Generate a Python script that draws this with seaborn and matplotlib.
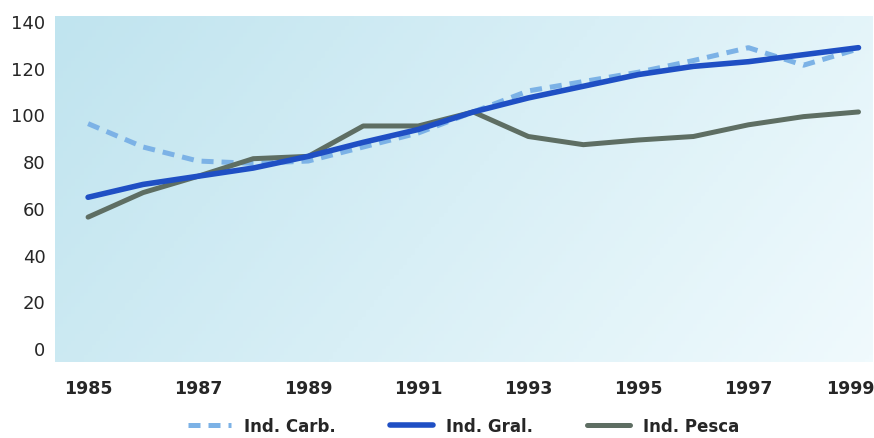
import numpy as np
import pandas as pd
import matplotlib.pyplot as plt
import matplotlib.transforms as mtransforms
import seaborn as sns

# Datos
years = list(range(1985, 2000))
ind_carb = [96, 86, 80, 79, 80, 86, 92, 101, 110, 114, 118, 123, 128.5, 121, 128]
ind_gral = [64.5, 70, 73.5, 77, 82, 88, 93.5, 101, 107, 112, 117, 120.5, 122.5, 125.5, 128.5]
ind_pesca = [56, 66.5, 73.5, 81, 82, 95, 95, 101, 90.5, 87, 89, 90.5, 95.5, 99, 101]

x_ticks = [1985, 1987, 1989, 1991, 1993, 1995, 1997, 1999]
y_ticks = [0, 20, 40, 60, 80, 100, 120, 140]

df = pd.DataFrame({'year': years, 'Ind. Carb.': ind_carb,
                   'Ind. Gral.': ind_gral, 'Ind. Pesca': ind_pesca})

sns.set_style('white')
plt.rcParams['font.family'] = ['DejaVu Sans']

fig = plt.figure(figsize=(8.74, 4.39), dpi=100)
ax = fig.add_axes([0.063, 0.173, 0.935, 0.788])

# fondo degradado azul claro (más oscuro a la izquierda y arriba)
gx, gy = np.meshgrid(np.linspace(0, 1, 200), np.linspace(0, 1, 100))
grad = 0.75 * gx + 0.25 * gy
ax.imshow(grad, extent=[0, 1, 0, 1], transform=ax.transAxes, aspect='auto',
          cmap=sns.blend_palette(['#c0e4ef', '#f0fafd'], as_cmap=True),
          zorder=0)

sns.lineplot(data=df, x='year', y='Ind. Carb.', ax=ax, color='#7cb2e6',
             lw=3.6, dashes=(2.4, 1.6), label='Ind. Carb.', zorder=2)
sns.lineplot(data=df, x='year', y='Ind. Pesca', ax=ax, color='#5e6e63',
             lw=3.6, label='Ind. Pesca', zorder=3)
sns.lineplot(data=df, x='year', y='Ind. Gral.', ax=ax, color='#1f4fc4',
             lw=4, label='Ind. Gral.', zorder=4)

ax.set_xlim(1984.4, 1999.25)
ax.set_ylim(-6, 142)
ax.set_xticks(x_ticks)
ax.set_yticks(y_ticks)
ax.set_xticklabels([str(t) for t in x_ticks], fontsize=12.5, fontweight='bold')
ax.set_yticklabels([str(t) for t in y_ticks], fontsize=13)
ax.tick_params(axis='x', length=0, pad=12)
ax.tick_params(axis='y', length=0, pad=7)
ax.set_xlabel('')
ax.set_ylabel('')
sns.despine(ax=ax, left=True, bottom=True)

# el último año queda pegado al borde derecho
last = ax.get_xticklabels()[-1]
last.set_transform(last.get_transform() +
                   mtransforms.ScaledTranslation(-0.08, 0, fig.dpi_scale_trans))

handles, labels = ax.get_legend_handles_labels()
order = [labels.index(l) for l in ['Ind. Carb.', 'Ind. Gral.', 'Ind. Pesca']]
ax.legend([handles[i] for i in order], [labels[i] for i in order],
          loc='center', bbox_to_anchor=(0.5, -0.185), ncol=3, frameon=False,
          prop={'weight': 'bold', 'size': 12}, handlelength=2.6,
          columnspacing=3.2, borderaxespad=0)

fig.savefig('out.png', dpi=100)
